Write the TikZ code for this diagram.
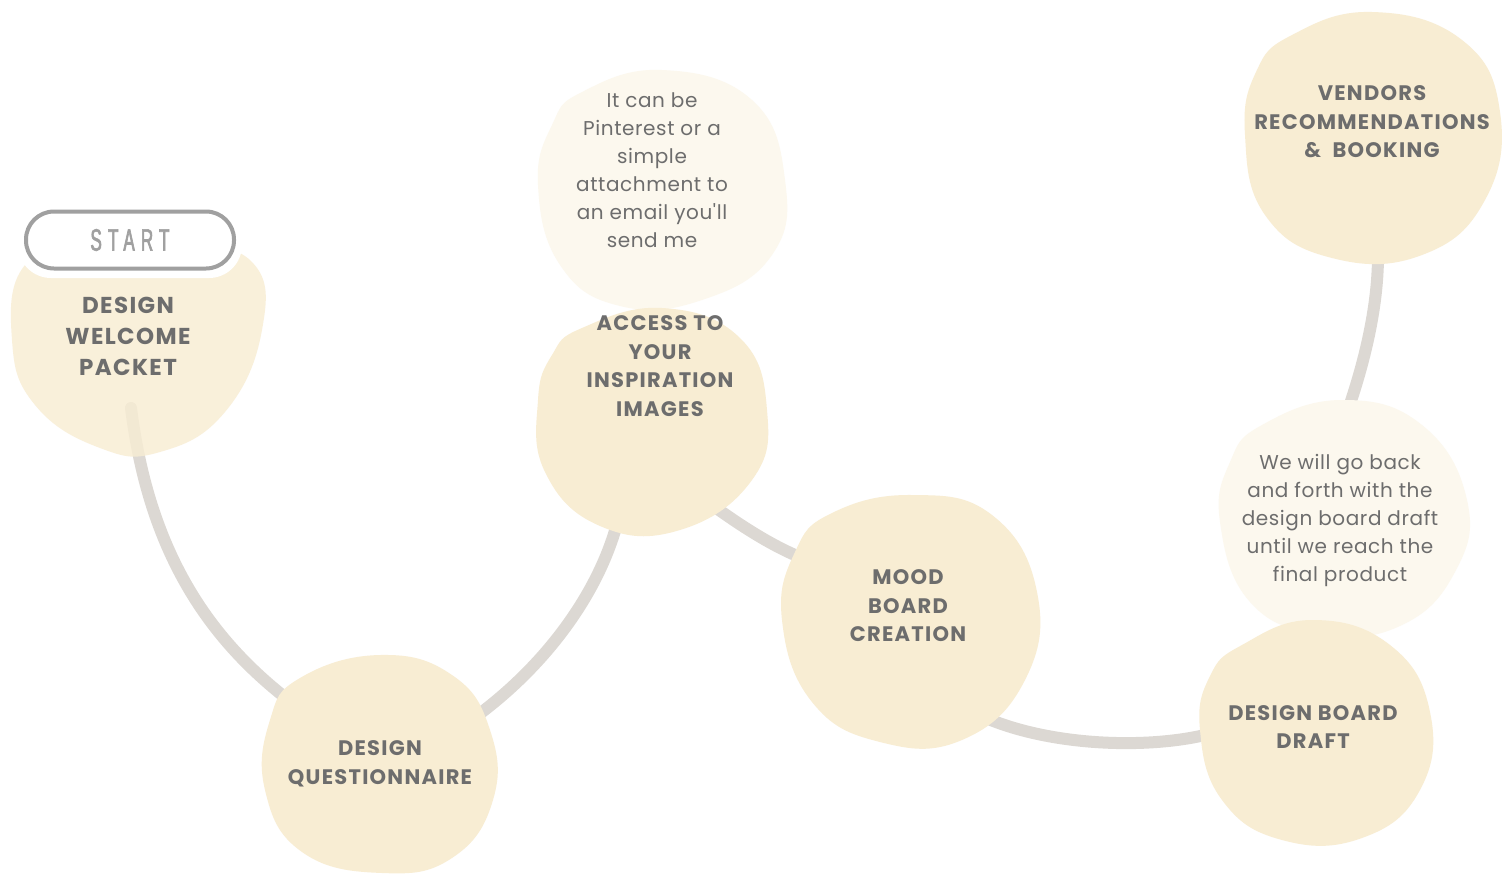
\documentclass[tikz,border=0pt]{standalone}
\usepackage{fontspec}
\setmainfont{Poppins}
\newfontfamily\titlefont[LetterSpace=6]{Poppins}
\newfontfamily\notefont[LetterSpace=3]{Poppins}
\newfontfamily\startfont[FakeStretch=0.55,LetterSpace=20,FakeBold=2]{Liberation Sans}
\definecolor{blob}{HTML}{F8EDD3}
\definecolor{lightblob}{HTML}{FCF8EE}
\definecolor{txt}{HTML}{6D6D6D}
\definecolor{conn}{HTML}{DCD8D3}
\definecolor{startgray}{HTML}{A0A0A0}
\tikzset{
  conn/.style={draw=conn,line width=12pt,line cap=round},
  blobshape/.style={fill=blob,draw=none},
  lightshape/.style={fill=lightblob,draw=none},
  title/.style={text=txt,align=center,font=\titlefont\bfseries\fontsize{21}{28.5}\selectfont,inner sep=0pt},
  note/.style={text=txt,align=center,font=\notefont\fontsize{20}{28}\selectfont,inner sep=0pt},
}
\begin{document}
\begin{tikzpicture}[x=1pt,y=-1pt]
\useasboundingbox (0,0) rectangle (1504,873);
\fill[white] (0,0) rectangle (1504,873);
% connector end points
\coordinate (w1) at (131,408);
\coordinate (q1) at (295,705);
\coordinate (q2) at (482,712);
\coordinate (a1) at (618,520);
\coordinate (a2) at (712,505);
\coordinate (m1) at (802,558);
\coordinate (m2) at (975,713);
\coordinate (d1) at (1205,735);
\coordinate (l1) at (1350,404);
\coordinate (v1) at (1378,255);
% connectors
\draw[conn] (w1) .. controls (150,560) and (215,645) .. (q1);
\draw[conn] (q2) .. controls (550,660) and (600,590) .. (a1);
\draw[conn] (a2) .. controls (740,525) and (770,545) .. (m1);
\draw[conn] (m2) .. controls (1040,745) and (1140,750) .. (d1);
\draw[conn] (l1) .. controls (1368,350) and (1378,300) .. (v1);
% blobs
\fill[blobshape,fill opacity=0.82] plot[smooth cycle,tension=0.75] coordinates {(25,265) (12,340) (35,405) (100,448) (160,452) (225,412) (262,330) (252,262) (180,245) (90,245)};
\fill[blobshape] plot[smooth cycle,tension=0.75] coordinates {(300,678) (380,655) (452,675) (490,730) (493,800) (452,858) (382,873) (302,852) (265,790) (270,720)};
\fill[lightshape] plot[smooth cycle,tension=0.75] coordinates {(582,92) (662,70) (752,100) (785,180) (772,255) (702,300) (620,306) (560,265) (538,185) (552,125)};
\fill[blobshape] plot[smooth cycle,tension=0.75] coordinates {(582,328) (662,308) (740,338) (767,410) (752,480) (680,530) (600,526) (545,472) (538,400) (552,355)};
\fill[blobshape] plot[smooth cycle,tension=0.75] coordinates {(832,513) (912,495) (992,515) (1037,592) (1025,680) (962,740) (880,742) (812,702) (782,620) (795,552)};
\fill[lightshape] plot[smooth cycle,tension=0.75] coordinates {(1262,425) (1342,400) (1422,425) (1467,500) (1455,572) (1400,626) (1320,634) (1250,602) (1220,522) (1230,462)};
\fill[blobshape] plot[smooth cycle,tension=0.75] coordinates {(1242,645) (1312,620) (1390,645) (1430,712) (1420,790) (1362,838) (1282,840) (1222,800) (1200,730) (1210,676)};
\fill[blobshape] plot[smooth cycle,tension=0.75] coordinates {(1292,35) (1372,12) (1462,40) (1500,112) (1485,200) (1422,255) (1332,258) (1265,215) (1245,135) (1256,72)};
% texts
\node[title,font=\titlefont\bfseries\fontsize{23}{31}\selectfont] (welcome) at (128,336) {DESIGN\\WELCOME\\PACKET};
\node[title] (quest) at (380,764) {DESIGN\\QUESTIONNAIRE};
\node[title] (access) at (660,366) {ACCESS TO\\YOUR\\INSPIRATION\\IMAGES};
\node[note] (pin) at (652,170) {It can be\\Pinterest or a\\simple\\attachment to\\an email you'll\\send me};
\node[title] (mood) at (908,606) {MOOD\\BOARD\\CREATION};
\node[title] (draft) at (1313,727) {DESIGN BOARD\\DRAFT};
\node[note] (back) at (1340,520) {We will go back\\and forth with the\\design board draft\\until we reach the\\final product};
\node[title] (vendors) at (1372,122) {VENDORS\\RECOMMENDATIONS\\\&\ \ BOOKING};
% start button
\fill[white,rounded corners=33pt] (18,204) rectangle (242,278);
\node[draw=startgray,line width=4pt,fill=white,rounded corners=28pt,minimum width=208pt,minimum height=57pt,inner sep=0pt,text=startgray,font=\startfont\fontsize{31}{31}\selectfont] (start) at (130,240) {START};
\end{tikzpicture}
\end{document}
